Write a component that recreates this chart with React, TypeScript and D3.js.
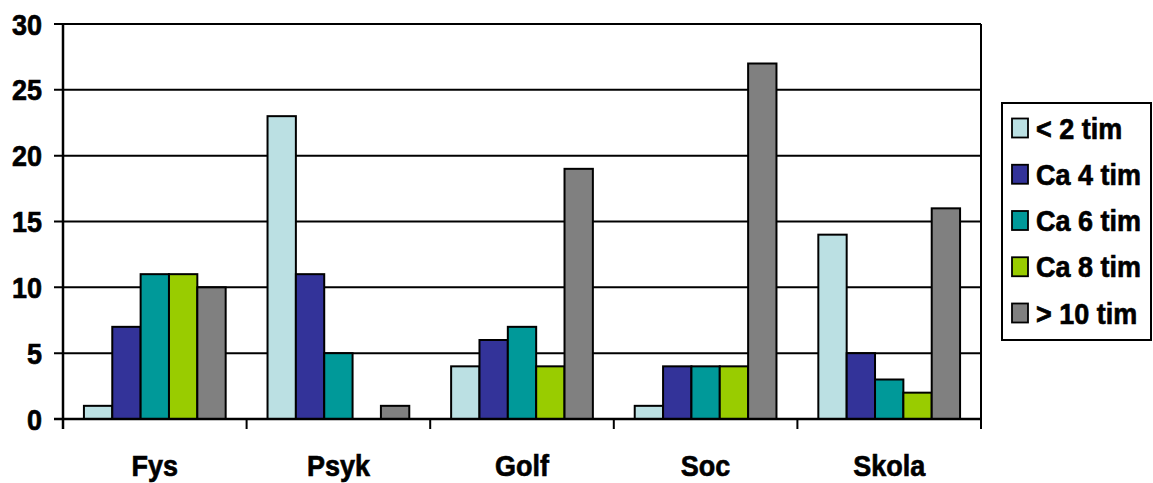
import React from "react";
import * as d3 from "d3";

const categories = ["Fys", "Psyk", "Golf", "Soc", "Skola"];
const seriesNames = ["< 2 tim", "Ca 4 tim", "Ca 6 tim", "Ca 8 tim", "> 10 tim"];
const seriesColors = ["#BBE0E3", "#333399", "#009999", "#99CC00", "#808080"];
const under2 = [1, 23, 4, 1, 14];
const ca4 = [7, 11, 6, 4, 5];
const ca6 = [11, 5, 7, 4, 3];
const ca8 = [11, 0, 4, 4, 2];
const over10 = [10, 1, 19, 27, 16];
const seriesValues = [under2, ca4, ca6, ca8, over10];
const yTicks = [0, 5, 10, 15, 20, 25, 30];

const W = 1153;
const H = 483;
const plot = { left: 63, right: 981, top: 24, bottom: 419 };
const FONT = "'Liberation Sans', Arial, sans-serif";
const STRETCH = 1.12;

function Label(props: { x: number; y: number; anchor: string; size: number; children: React.ReactNode }) {
  return (
    <text
      transform={`translate(${props.x},${props.y}) scale(1,${STRETCH})`}
      textAnchor={props.anchor as any}
      dominantBaseline="central"
      fontFamily={FONT}
      fontWeight="bold"
      fontSize={props.size}
      fill="#000"
      stroke="#000"
      strokeWidth={0.6}
    >
      {props.children}
    </text>
  );
}

export default function App() {
  const x = d3.scaleBand<string>().domain(categories).range([plot.left, plot.right]).paddingInner(0).paddingOuter(0);
  const bw = x.bandwidth();
  const gap = bw * 0.114;
  const xs = d3
    .scaleBand<number>()
    .domain(d3.range(seriesNames.length))
    .range([gap, bw - gap])
    .paddingInner(0);
  const y = d3.scaleLinear().domain([0, 30]).range([plot.bottom, plot.top]);

  const legend = { x: 1002, y: 103, w: 149, h: 237, rowStart: 128, rowStep: 46.25 };

  return (
    <svg width={W} height={H} style={{ position: "absolute", left: 0, top: 0, background: "#fff" }}>
      {/* gridlines with outside tick marks */}
      {yTicks.map((t) => (
        <g key={t}>
          <line x1={54} x2={plot.right} y1={y(t)} y2={y(t)} stroke="#000" strokeWidth={2} />
          <Label x={42} y={y(t)} anchor="end" size={27}>
            {t}
          </Label>
        </g>
      ))}
      {/* right border of plot area */}
      <line x1={plot.right} x2={plot.right} y1={plot.top} y2={plot.bottom} stroke="#000" strokeWidth={2} />

      {/* bars */}
      {categories.map((c, ci) => (
        <g key={c}>
          {seriesValues.map((vals, si) => {
            const v = vals[ci];
            if (v <= 0) return null;
            const bx = (x(c) as number) + (xs(si) as number);
            return (
              <rect
                key={si}
                x={bx}
                y={y(v)}
                width={xs.bandwidth()}
                height={y(0) - y(v)}
                fill={seriesColors[si]}
                stroke="#000"
                strokeWidth={2}
              />
            );
          })}
        </g>
      ))}

      {/* axes */}
      <line x1={plot.left} x2={plot.left} y1={plot.top - 1} y2={plot.bottom + 10} stroke="#000" strokeWidth={2.5} />
      <line x1={54} x2={plot.right} y1={plot.bottom} y2={plot.bottom} stroke="#000" strokeWidth={2.5} />
      {categories.map((c) => (
        <line
          key={"t" + c}
          x1={(x(c) as number) + bw}
          x2={(x(c) as number) + bw}
          y1={plot.bottom}
          y2={plot.bottom + 10}
          stroke="#000"
          strokeWidth={2}
        />
      ))}
      {categories.map((c) => (
        <Label key={"l" + c} x={(x(c) as number) + bw / 2} y={465} anchor="middle" size={27}>
          {c}
        </Label>
      ))}

      {/* legend */}
      <rect x={legend.x} y={legend.y} width={legend.w} height={legend.h} fill="#fff" stroke="#000" strokeWidth={2} />
      {seriesNames.map((name, i) => {
        const cy = legend.rowStart + i * legend.rowStep;
        return (
          <g key={name}>
            <rect x={1012} y={cy - 9.5} width={16} height={19} fill={seriesColors[i]} stroke="#000" strokeWidth={1.8} />
            <Label x={1036} y={cy} anchor="start" size={27}>
              {name}
            </Label>
          </g>
        );
      })}
    </svg>
  );
}
